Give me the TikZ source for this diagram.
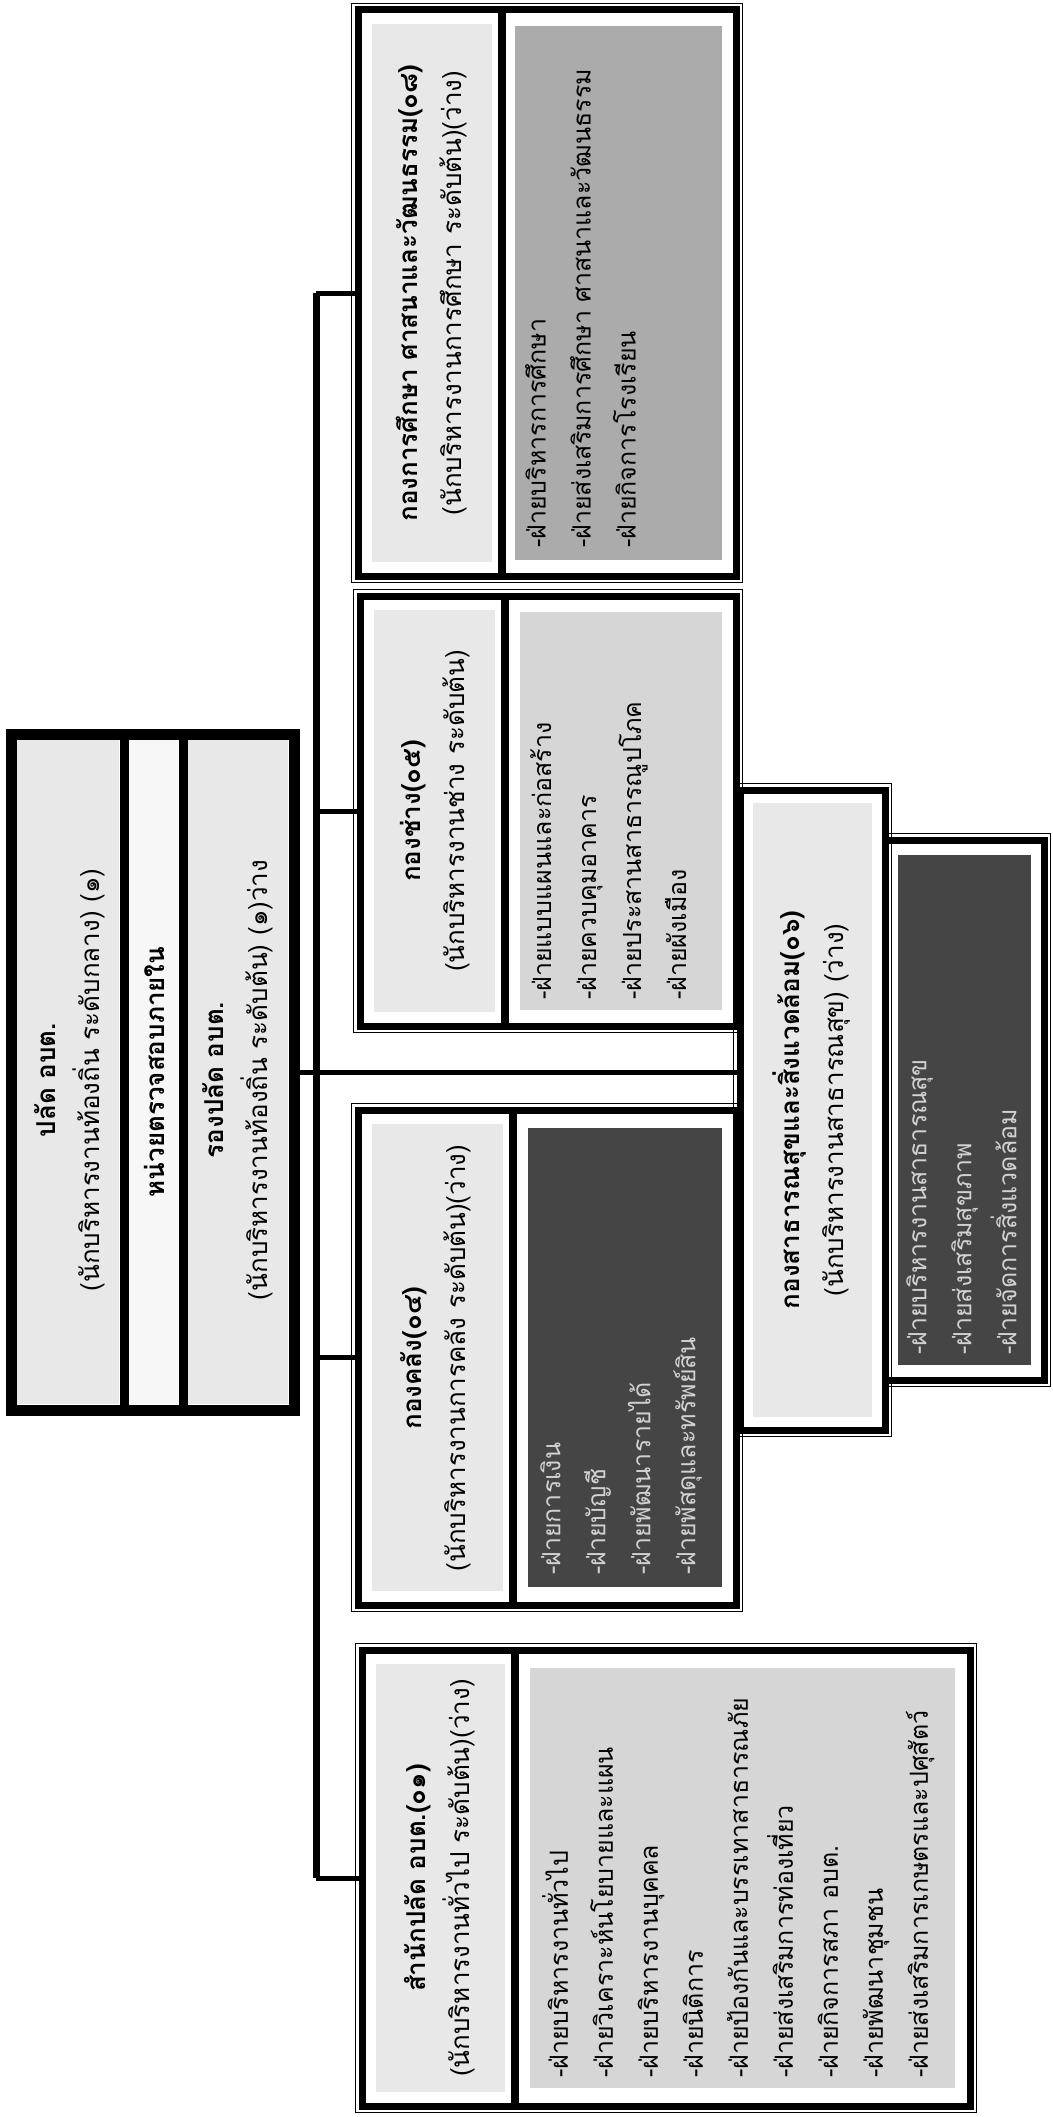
\documentclass[tikz,border=0pt]{standalone}
\usepackage{fontspec}
\setmainfont[Script=Thai]{Loma}
\usetikzlibrary{fit}
\newcommand\mydbox[6]{%
  \node[fit={(#2,#3) (#4,#5)}, inner sep=0pt, outer sep=0pt, draw, line width=7pt, fill=#6] (#1) {};
  \draw[line width=1.3pt] ([shift={(-6.5pt,6.5pt)}]#1.north west) rectangle ([shift={(6.5pt,-6.5pt)}]#1.south east);
}
\begin{document}
\begin{tikzpicture}[x=1pt,y=-1pt,
  hdr/.style={rotate=90, align=center, font=\fontsize{26}{44}\selectfont, inner sep=0pt},
  itemlist/.style={rotate=90, align=left, font=\fontsize{25}{45}\selectfont, inner sep=0pt, anchor=north west},
  conn/.style={line width=5pt},
  busline/.style={line width=7pt},
]
\colorlet{hdrfill}{black!9}
\colorlet{lightfill}{black!16}
\colorlet{midfill}{black!33}
\colorlet{darkfill}{black!73}
\useasboundingbox[fill=white] (0,0) rectangle (1052,2117);

% ---------- top box ----------
\node[fit={(11,734) (294,1410)}, inner sep=0pt, outer sep=0pt, draw, line width=11pt, fill=white] (T) {};
\fill[hdrfill] (17,740) rectangle (119,1404);
\fill[black!3] (129,740) rectangle (178,1404);
\fill[hdrfill] (188,740) rectangle (288,1404);
\draw[line width=9pt] (124,734) -- (124,1410);
\draw[line width=9pt] (183,734) -- (183,1410);
\node[hdr] (t1) at (70,1080) {\textbf{ปลัด อบต.}\\(นักบริหารงานท้องถิ่น ระดับกลาง) (๑)};
\node[hdr] (t2) at (154,1072) {\textbf{หน่วยตรวจสอบภายใน}};
\node[hdr] (t3) at (238,1080) {\textbf{รองปลัด อบต.}\\(นักบริหารงานท้องถิ่น ระดับต้น) (๑)ว่าง};

% ---------- สำนักปลัด ----------
\mydbox{S}{362}{1650}{970}{2106}{white}
\fill[hdrfill] (376,1664) rectangle (505,2092);
\fill[lightfill] (530,1668) rectangle (955,2088);
\draw[line width=8pt] (515,1650) -- (515,2106);
\node[hdr] (s1) at (440,1878) {\textbf{สำนักปลัด อบต.(๐๑)}\\(นักบริหารงานทั่วไป ระดับต้น)(ว่าง)};
\node[itemlist] (s2) at (542,2078) {-ฝ่ายบริหารงานทั่วไป\\-ฝ่ายวิเคราะห์นโยบายและแผน\\-ฝ่ายบริหารงานบุคคล\\-ฝ่ายนิติการ\\-ฝ่ายป้องกันและบรรเทาสาธารณภัย\\-ฝ่ายส่งเสริมการท่องเที่ยว\\-ฝ่ายกิจการสภา อบต.\\-ฝ่ายพัฒนาชุมชน\\-ฝ่ายส่งเสริมการเกษตรและปศุสัตว์};

% ---------- กองคลัง ----------
\mydbox{K}{358}{1110}{736}{1605}{white}
\fill[hdrfill] (372,1124) rectangle (503,1591);
\fill[darkfill] (528,1128) rectangle (722,1587);
\draw[line width=8pt] (513,1110) -- (513,1605);
\node[hdr] (k1) at (436,1358) {\textbf{กองคลัง(๐๔)}\\(นักบริหารงานการคลัง ระดับต้น)(ว่าง)};
\node[itemlist, text=gray!35] (k2) at (540,1575) {-ฝ่ายการเงิน\\-ฝ่ายบัญชี\\-ฝ่ายพัฒนารายได้\\-ฝ่ายพัสดุและทรัพย์สิน};

% ---------- กองช่าง ----------
\mydbox{C}{360}{596}{736}{1026}{white}
\fill[hdrfill] (374,610) rectangle (495,1012);
\fill[lightfill] (520,612) rectangle (722,1010);
\draw[line width=8pt] (505,596) -- (505,1026);
\node[hdr] (c1) at (435,811) {\textbf{กองช่าง(๐๕)}\\(นักบริหารงานช่าง ระดับต้น)};
\node[itemlist] (c2) at (530,1000) {-ฝ่ายแบบแผนและก่อสร้าง\\-ฝ่ายควบคุมอาคาร\\-ฝ่ายประสานสาธารณูปโภค\\-ฝ่ายผังเมือง};

% ---------- กองการศึกษา ----------
\mydbox{E}{358}{10}{736}{576}{white}
\fill[hdrfill] (372,24) rectangle (492,562);
\fill[midfill] (515,26) rectangle (722,560);
\draw[line width=8pt] (502,10) -- (502,576);
\node[hdr] (e1) at (432,293) {\textbf{กองการศึกษา ศาสนาและวัฒนธรรม(๐๘)}\\(นักบริหารงานการศึกษา ระดับต้น)(ว่าง)};
\node[itemlist] (e2) at (525,548) {-ฝ่ายบริหารการศึกษา\\-ฝ่ายส่งเสริมการศึกษา ศาสนาและวัฒนธรรม\\-ฝ่ายกิจการโรงเรียน};

% ---------- กองสาธารณสุข ----------
\mydbox{PC}{885}{840}{1044}{1380}{white}
\fill[darkfill] (898,855) rectangle (1031,1365);
\mydbox{P}{740}{790}{885}{1430}{white}
\fill[hdrfill] (753,803) rectangle (872,1417);
\node[hdr] (p1) at (812,1110) {\textbf{กองสาธารณสุขและสิ่งแวดล้อม(๐๖)}\\(นักบริหารงานสาธารณสุข) (ว่าง)};
\node[itemlist, text=gray!35] (p2) at (906,1355) {-ฝ่ายบริหารงานสาธารณสุข\\-ฝ่ายส่งเสริมสุขภาพ\\-ฝ่ายจัดการสิ่งแวดล้อม};

% ---------- connectors ----------
\coordinate (bx) at (316,0);
\draw[busline] (bx |- E.west) -- (bx |- S.west);
\draw[conn] (T.east) -- (T.east -| P.west);
\draw[conn] (bx |- E.west) -- (E.west);
\draw[conn] (bx |- C.west) -- (C.west);
\draw[conn] (bx |- K.west) -- (K.west);
\draw[conn] (bx |- S.west) -- (S.west);
\end{tikzpicture}
\end{document}
